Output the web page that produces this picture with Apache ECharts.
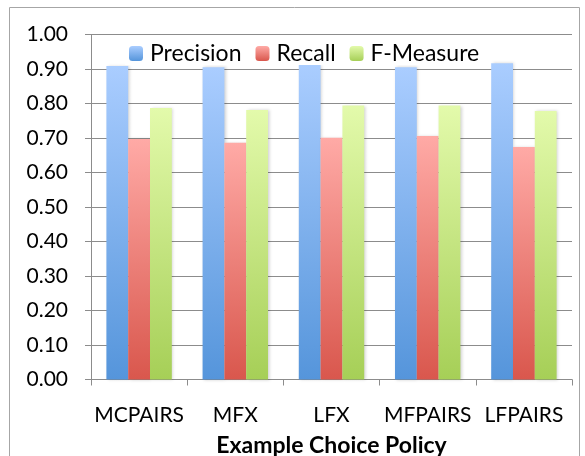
<!DOCTYPE html>
<html>
<head>
<meta charset="utf-8">
<script src="https://cdn.jsdelivr.net/npm/echarts@6/dist/echarts.min.js"></script>
<style>
  html, body { margin: 0; padding: 0; background: #fff; }
  #chart { width: 585px; height: 456px; }
</style>
</head>
<body>
<div id="chart"></div>
<script>
// Example choice policies compared on three retrieval metrics
const categories = ['MCPAIRS', 'MFX', 'LFX', 'MFPAIRS', 'LFPAIRS'];
const precision = [0.909, 0.905, 0.912, 0.905, 0.917];
const recall    = [0.697, 0.686, 0.701, 0.706, 0.674];
const fMeasure  = [0.787, 0.781, 0.794, 0.794, 0.778];
const yTicks = { min: 0, max: 1, interval: 0.1 };
const xTitle = 'Example Choice Policy';

const FONT = 'Lato, "Open Sans", sans-serif';

function grad(top, bottom) {
  return new echarts.graphic.LinearGradient(0, 0, 0, 1, [
    { offset: 0, color: top },
    { offset: 1, color: bottom }
  ]);
}

function barSeries(name, data, top, bottom) {
  return {
    name: name,
    type: 'bar',
    data: data,
    barGap: '0%',
    barCategoryGap: '32%',
    itemStyle: {
      color: grad(top, bottom),
      shadowColor: 'rgba(0,0,0,0.18)',
      shadowBlur: 3,
      shadowOffsetX: 1.5,
      shadowOffsetY: 0
    },
    emphasis: { disabled: true }
  };
}

const chart = echarts.init(document.getElementById('chart'), null, { renderer: 'canvas' });
chart.setOption({
  animation: false,
  backgroundColor: '#ffffff',
  graphic: [{
    type: 'rect',
    shape: { x: 9.5, y: 7.5, width: 570, height: 460 },
    style: { fill: 'none', stroke: '#a6a6a6', lineWidth: 1 },
    z: -1
  }],
  legend: {
    top: 42,
    left: 125,
    itemWidth: 14,
    itemHeight: 15,
    itemGap: 14,
    backgroundColor: '#ffffff',
    padding: [0, 4],
    textStyle: { fontFamily: FONT, fontSize: 23, color: '#000', padding: [0, 0, 0, 2] },
    data: ['Precision', 'Recall', 'F-Measure']
  },
  grid: {
    left: 91, right: 13, top: 34.5, bottom: 76.5,
    containLabel: false,
    outerBoundsMode: 'none'
  },
  xAxis: {
    type: 'category',
    data: categories,
    name: xTitle,
    nameLocation: 'middle',
    nameGap: 55,
    nameTextStyle: { fontFamily: FONT, fontSize: 23, fontWeight: 'bold', color: '#000' },
    axisLine: { lineStyle: { color: '#8c8c8c', width: 1 } },
    axisTick: { show: true, length: 6, lineStyle: { color: '#8c8c8c' } },
    axisLabel: { fontFamily: FONT, fontSize: 21, color: '#000', margin: 25, interval: 0 }
  },
  yAxis: {
    type: 'value',
    min: yTicks.min,
    max: yTicks.max,
    interval: yTicks.interval,
    axisLine: { show: true, lineStyle: { color: '#8c8c8c', width: 1 } },
    axisTick: { show: true, length: 6, lineStyle: { color: '#8c8c8c' } },
    splitLine: { lineStyle: { color: '#8c8c8c', width: 1 } },
    axisLabel: {
      fontFamily: FONT, fontSize: 21, color: '#000', margin: 23,
      formatter: v => v.toFixed(2)
    }
  },
  series: [
    barSeries('Precision', precision, '#aacdff', '#5595db'),
    barSeries('Recall', recall, '#ffaaa6', '#d9574d'),
    barSeries('F-Measure', fMeasure, '#e3faab', '#a6cf57')
  ]
});
</script>
</body>
</html>
